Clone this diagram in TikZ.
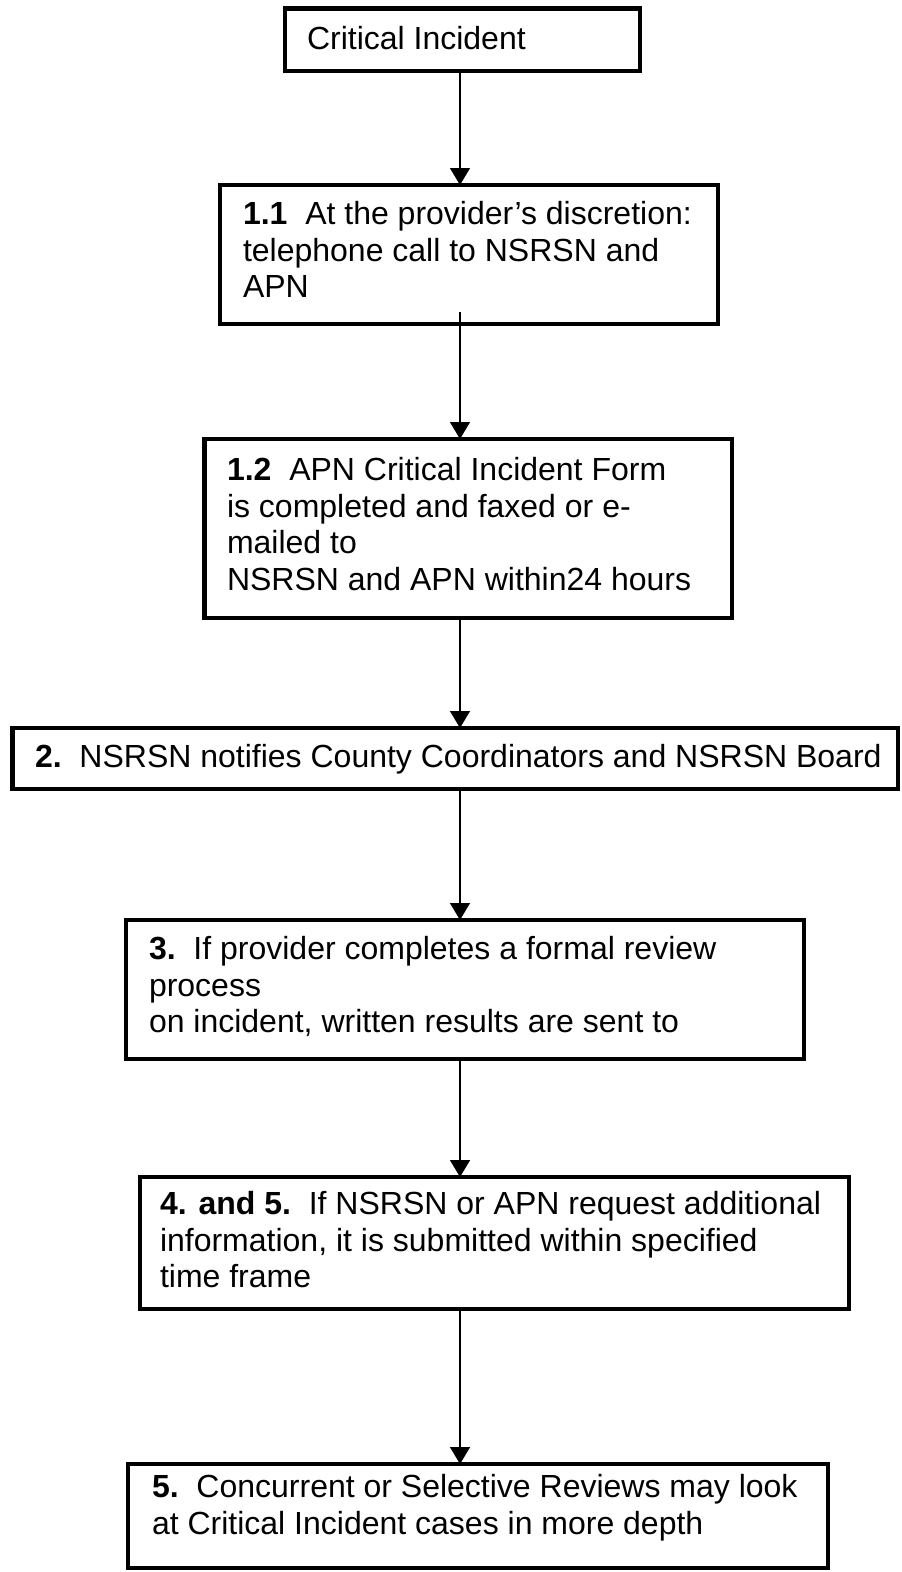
\documentclass[tikz,border=0pt]{standalone}
\usepackage{fontspec}
\setmainfont{Liberation Sans}
\usetikzlibrary{arrows.meta,calc}
\begin{document}
\begin{tikzpicture}[x=1pt,y=-1pt,
  stepbox/.style={draw=black,line width=4.5pt,inner sep=0pt,outer sep=0pt,anchor=north west,fill=none},
  txt/.style={anchor=north west,inner sep=0pt,outer sep=0pt,align=left,font=\fontsize{32}{36.5}\selectfont},
  arr/.style={line width=1.5pt,-{Triangle[length=17pt,width=20pt]}}]
\useasboundingbox[fill=white] (0,0) rectangle (902,1572);
% boxes
\node[stepbox,minimum width=355pt,minimum height=62.5pt] (b0) at (285,8.5) {};
\node[stepbox,minimum width=498pt,minimum height=139pt] (b11) at (220,185) {};
\node[stepbox,minimum width=527.5pt,minimum height=179pt] (b12) at (204.5,439) {};
\node[stepbox,minimum width=885.5pt,minimum height=61pt] (b2) at (12.5,728) {};
\node[stepbox,minimum width=678pt,minimum height=139pt] (b3) at (126,920) {};
\node[stepbox,minimum width=709pt,minimum height=132pt] (b45) at (140,1177) {};
\node[stepbox,minimum width=700pt,minimum height=104pt] (b5) at (128,1464) {};
% texts
\node[txt] (t0) at (307,26.7) {Critical Incident};
\node[txt] (t11) at (243,201.7) {\textbf{1.1}~~At the provider’s discretion:\\telephone call to NSRSN and\\APN};
\node[txt] (t12) at (227,457.7) {\textbf{1.2}~~APN Critical Incident Form\\is completed and faxed or e-\\mailed to\\NSRSN and APN within24 hours};
\node[txt] (t2) at (35,744.7) {\textbf{2.}~~NSRSN notifies County Coordinators and NSRSN Board};
\node[txt] (t3) at (149,936.7) {\textbf{3.}~~If provider completes a formal review\\process\\on incident, written results are sent to};
\node[txt] (t45) at (160,1191.7) {\textbf{4. and 5.}~~If NSRSN or APN request additional\\information, it is submitted within specified\\time frame};
\node[txt] (t5) at (152,1474.7) {\textbf{5.}~~Concurrent or Selective Reviews may look\\at Critical Incident cases in more depth};
% connectors
\coordinate (ax) at (460,0);
\draw[arr] (b0.south -| ax) -- (b11.north -| ax);
\draw[arr] ($(b11.south -| ax)+(0,-12)$) -- (b12.north -| ax);
\draw[arr] (b12.south -| ax) -- (b2.north -| ax);
\draw[arr] (b2.south -| ax) -- (b3.north -| ax);
\draw[arr] (b3.south -| ax) -- (b45.north -| ax);
\draw[arr] (b45.south -| ax) -- (b5.north -| ax);
\end{tikzpicture}
\end{document}
